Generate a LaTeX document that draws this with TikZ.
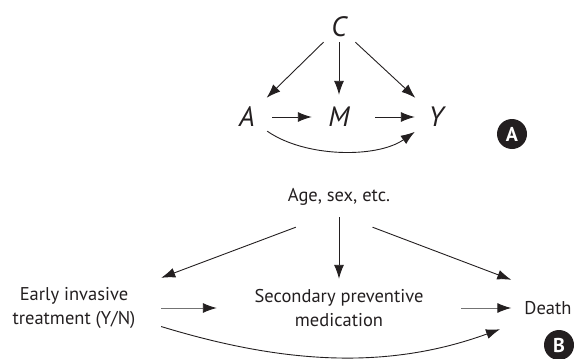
\documentclass[tikz,border=0pt]{standalone}
\usepackage{fontspec}
\setmainfont{PT Sans}
\usetikzlibrary{arrows.meta}
\definecolor{inkgray}{HTML}{231F20}
\tikzset{
	var/.style={inner sep=0pt,font=\fontsize{28}{28}\selectfont\itshape,text=inkgray},
	lbl/.style={inner sep=0pt,align=center,font=\fontsize{18.5}{23.5}\selectfont,text=inkgray},
	badge/.style={circle,fill=inkgray,text=white,minimum size=30pt,inner sep=0pt,font=\fontsize{20}{20}\selectfont\bfseries},
	arr/.style={-{Latex[length=14pt,width=10pt]},line width=0.9pt,draw=inkgray},
	greyarr/.style={-{Latex[length=14pt,width=10pt,color=inkgray]},line width=0.9pt,draw=black!55},
}
\begin{document}
\begin{tikzpicture}[x=1pt,y=-1pt]
	\useasboundingbox (0,0) rectangle (574,359);
	% panel A
	\node[var,minimum width=36pt,minimum height=30pt] (C) at (339,27) {C};
	\node[var,minimum width=40pt,minimum height=38pt] (A) at (247,117) {A};
	\node[var,minimum width=54pt,minimum height=44pt] (M) at (339,117) {M};
	\node[var,minimum width=42pt,minimum height=38pt] (Y) at (436,117) {Y};
	\node[badge] (BadgeA) at (512,134) {A};
	\draw[arr] (C) -- (A);
	\draw[arr] (C) -- (M);
	\draw[arr] (C) -- (Y);
	\draw[arr,shorten <=5pt] (A) -- (M);
	\draw[arr,shorten <=9pt] (M) -- (Y);
	\draw[arr] (A) to[out=-35,in=-145,looseness=0.8] (Y);% direct effect
	% panel B
	\node[lbl,minimum width=102pt,minimum height=60pt] (Age) at (339,197) {Age, sex, etc.};
	\node[lbl,minimum width=174pt,minimum height=60pt] (Early) at (74,308) {Early invasive\\treatment (Y/N)};
	\node[lbl,minimum width=244pt,minimum height=58pt] (Sec) at (339,308) {Secondary preventive\\medication};
	\node[lbl,minimum width=73pt,minimum height=56pt] (Death) at (548,308) {Death};
	\node[badge] (BadgeB) at (559,345) {B};
	\draw[arr] (Age.-145) -- (Early.north east);
	\draw[arr,shorten <=-10pt] (Age) -- (Sec);
	\draw[arr] (Age.-42) -- (Death.north west);
	\draw[greyarr] (Early) -- (Sec);
	\draw[greyarr] (Sec) -- (Death);
	\draw[arr,shorten >=12pt] (Early.-12) to[out=-17,in=-160,looseness=0.95] (Death.-155);% direct effect
\end{tikzpicture}
\end{document}
